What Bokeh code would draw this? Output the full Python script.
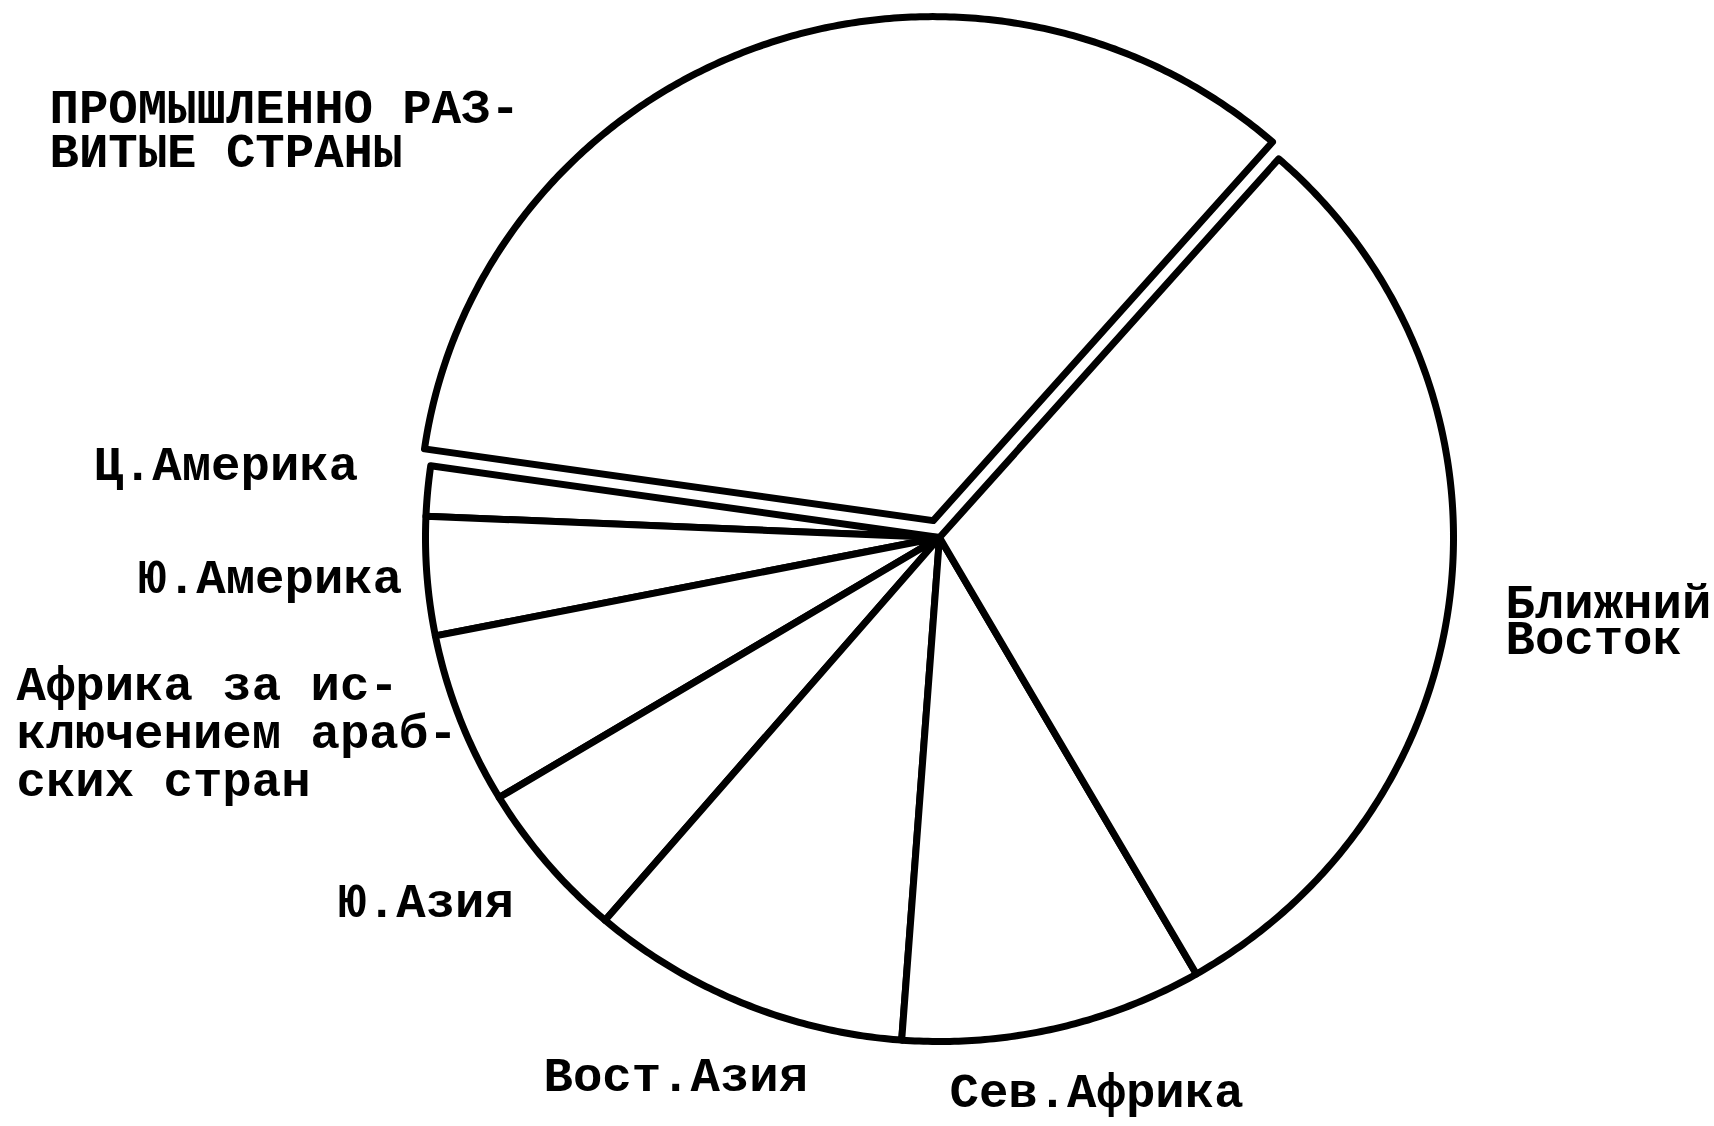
import numpy as np
from bokeh.plotting import figure
from bokeh.models import Range1d, ColumnDataSource
from bokeh.core.properties import value
from bokeh.embed import file_html
from bokeh.resources import INLINE

# ---- data (shares in %) ----
categories = [
    "ПРОМЫШЛЕННО РАЗ-\nВИТЫЕ СТРАНЫ",
    "Ц.Америка",
    "Ю.Америка",
    "Африка за ис-\nключением араб-\nских стран",
    "Ю.Азия",
    "Вост.Азия",
    "Сев.Африка",
    "Ближний\nВосток",
]
shares = [34.2, 1.6, 3.8, 5.5, 5.1, 10.1, 9.5, 30.2]
exploded = [True, False, False, False, False, False, False, False]

# ---- layout ----
W, H = 1714, 1126
START_DEG = 48.7           # where the first slice starts (counter-clockwise)
CX, CY_SCREEN = 939, 537   # pie centre in page pixels
RX, RY = 514, 504
EXPLODE = 18
FONT = "Liberation Mono"
FONT_PX = 49

# label anchors: (x of left edge, screen y of first baseline, line spacing)
label_pos = [
    (49, 109, 44),
    (93, 466, 0),
    (137, 579, 0),
    (16, 686, 48),
    (337, 903, 0),
    (543, 1077, 0),
    (949, 1093, 0),
    (1505, 604, 36),
]


def sy(y_screen):
    return H - y_screen


p = figure(
    width=W, height=H,
    x_range=Range1d(0, W), y_range=Range1d(0, H),
    output_backend="svg", toolbar_location=None,
    x_axis_location=None, y_axis_location=None,
    min_border=0,
)
p.grid.visible = False
p.outline_line_color = None
p.background_fill_color = "white"
p.border_fill_color = "white"

cy = sy(CY_SCREEN)
total = sum(shares)
xs, ys = [], []
a = np.radians(START_DEG)
for s, ex in zip(shares, exploded):
    span = 2 * np.pi * s / total
    a0, a1 = a, a + span
    mid = (a0 + a1) / 2
    ox = EXPLODE * np.cos(mid) if ex else 0.0
    oy = EXPLODE * np.sin(mid) if ex else 0.0
    t = np.linspace(a0, a1, max(8, int(span * 120)))
    px = np.concatenate([[CX + ox], CX + ox + RX * np.cos(t)])
    py = np.concatenate([[cy + oy], cy + oy + RY * np.sin(t)])
    xs.append(list(px))
    ys.append(list(py))
    a = a1

src = ColumnDataSource(dict(xs=xs, ys=ys, name=categories))
p.patches("xs", "ys", source=src, fill_color="white", line_color="black",
          line_width=7, line_join="round")

tx, ty, tt = [], [], []
for lab, (lx, ly, dl) in zip(categories, label_pos):
    for i, line in enumerate(lab.split("\n")):
        tx.append(lx)
        ty.append(sy(ly + i * dl))
        tt.append(line)

p.text(x=tx, y=ty, text=tt, text_font=value(FONT), text_font_size=f"{FONT_PX}px",
       text_font_style="bold",
       text_align="left", text_baseline="alphabetic", text_color="black")

open("out.html", "w").write(file_html(p, INLINE))
